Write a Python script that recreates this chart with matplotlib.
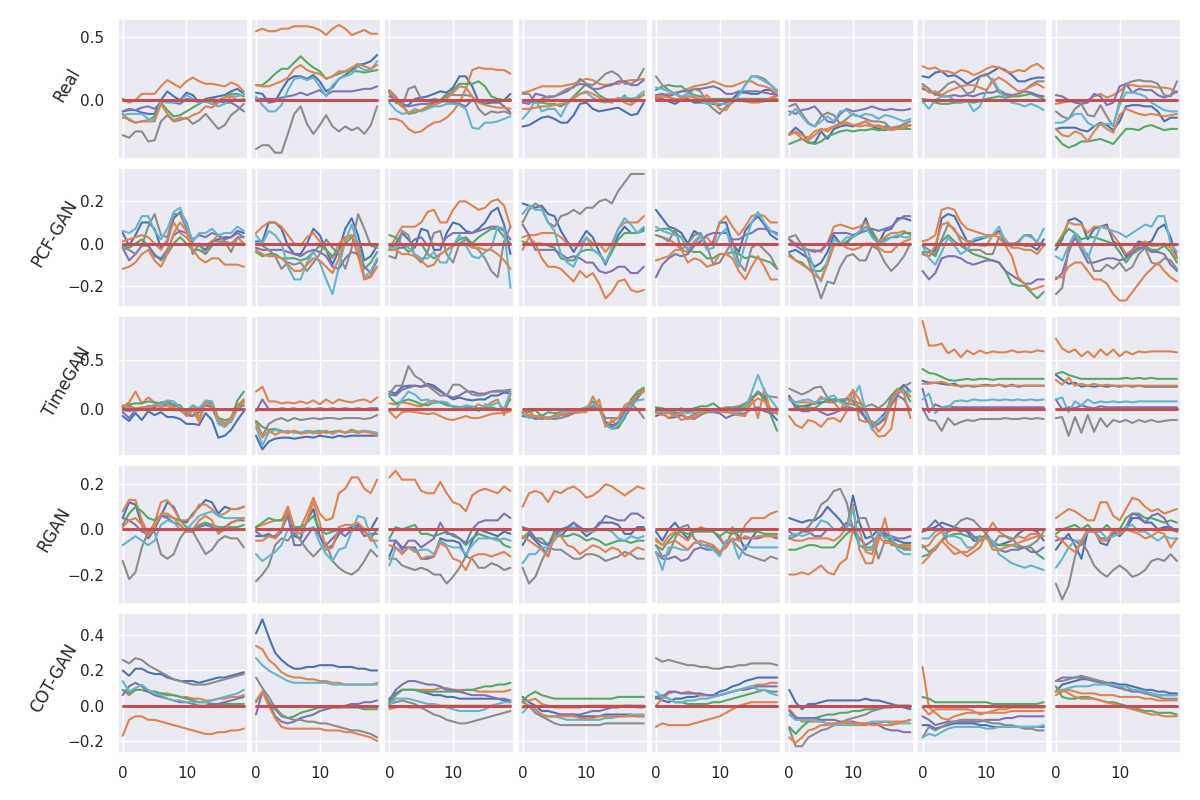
import numpy as np
import matplotlib
matplotlib.use("Agg")
import matplotlib.pyplot as plt
from matplotlib.ticker import MultipleLocator
import seaborn as sns

# -------------------------------
# Data (values in hundredths, one dict per panel, 20 steps each)
# -------------------------------
models = ["Real", "PCF-GAN", "TimeGAN", "RGAN", "COT-GAN"]
steps = list(range(20))
flat = [0] * 20  # channels that stay at zero

real = [
    dict(b=[-9,-8,-8,-10,-11,-11,0,7,3,0,6,4,-2,1,2,3,4,7,9,5],
         o=[1,-2,0,5,5,5,11,16,13,10,15,18,15,13,13,12,11,14,12,7],
         g=[-11,-16,-18,-17,-16,-13,-2,-8,-13,-12,-9,-6,-3,0,1,0,2,5,5,3],
         p=[-9,-7,-8,-6,-5,-7,-2,0,-2,-3,1,0,-2,-1,-3,-1,-2,-2,-5,-9],
         k=[-28,-30,-25,-25,-33,-32,-17,-12,-17,-16,-14,-19,-16,-11,-17,-23,-20,-12,-8,-3],
         c=[-12,-11,-11,-11,-15,-16,-1,-2,-2,-1,4,1,-2,-1,-3,-5,-3,3,3,5],
         o2=[-14,-15,-18,-17,-17,-17,-3,-11,-16,-14,-15,-12,-10,-5,-6,-2,2,3,0,1]),
    dict(b=[6,5,-2,-1,8,16,19,19,17,20,15,7,10,17,20,24,28,29,31,36],
         o=[55,57,55,55,57,57,59,59,59,58,56,52,57,60,57,52,54,56,53,53],
         g=[12,12,16,21,25,25,30,35,30,26,23,17,19,21,23,23,23,22,23,24],
         p=[1,1,1,1,2,3,4,6,4,6,8,4,7,7,7,7,8,9,9,11],
         k=[-39,-36,-36,-42,-42,-27,-11,-5,-19,-27,-20,-12,-21,-25,-21,-24,-22,-27,-20,-5],
         c=[3,-4,-9,-9,-4,8,17,18,16,18,11,3,12,17,19,21,27,24,24,31],
         o2=[12,11,11,13,15,18,25,28,24,22,21,17,19,23,23,26,29,27,25,28]),
    dict(b=[7,-1,-5,-4,1,2,3,5,7,6,10,19,19,11,-1,-3,-2,-2,0,5],
         o=[-15,-15,-17,-23,-26,-25,-21,-18,-17,-14,-9,-2,9,24,26,25,25,24,24,21],
         g=[6,-2,-3,-11,-10,-8,-6,-2,0,3,8,13,13,13,15,11,3,1,0,1],
         p=[3,1,-3,-5,-4,-3,-3,-2,-1,-1,-2,-3,-5,0,0,-1,-1,-1,-5,-10],
         k=[8,3,-5,9,11,1,-1,1,0,5,4,4,4,3,-7,-12,-9,-10,-9,-11],
         c=[-2,-8,-11,-10,-7,-9,-7,-5,-5,-3,-3,-4,-7,-22,-23,-18,-18,-17,-15,-13],
         o2=[8,0,-5,-10,-9,-8,-5,-4,-2,1,6,11,10,3,-2,-4,-5,-6,-6,-7]),
    dict(b=[-21,-20,-17,-14,-13,-15,-18,-18,-12,-3,-2,-7,-9,-8,-7,-6,-9,-12,-11,-2],
         o=[6,7,9,11,11,11,11,12,13,15,17,16,13,12,13,13,15,16,16,17],
         g=[0,-1,-2,-2,-3,-3,-5,-2,3,8,13,9,4,1,0,1,2,1,2,4],
         p=[-2,-3,5,4,2,3,5,7,11,13,12,9,9,11,12,15,15,12,12,16],
         k=[5,5,-2,1,3,3,6,9,10,17,13,12,16,21,23,20,13,13,16,25],
         c=[-15,-9,0,-9,-7,-7,-13,-3,1,5,6,2,-1,-2,1,-1,4,-2,3,7],
         o2=[-7,-7,-6,-5,-5,-4,-3,-2,2,5,7,5,2,-1,-2,2,-2,-4,0,5]),
    dict(b=[2,1,-1,-3,0,1,-2,-2,-2,-3,-4,-2,1,6,6,5,5,8,8,4],
         o=[1,4,5,6,7,9,11,12,13,15,13,11,11,13,15,15,12,11,9,5],
         g=[8,11,12,11,11,7,4,3,1,1,1,1,1,1,1,1,1,1,1,1],
         p=[4,5,3,5,7,7,9,9,10,11,9,5,5,7,7,7,7,6,5,4],
         k=[19,12,8,5,2,5,9,7,-2,-7,-11,-5,-2,4,12,19,19,17,12,7],
         c=[10,9,7,5,3,5,3,-1,-3,-2,-3,-3,-2,4,12,19,18,15,12,8],
         o2=[3,3,2,1,1,3,2,1,4,-1,-7,-8,-1,0,-1,-2,-2,-1,2,3]),
    dict(b=[-27,-22,-26,-34,-34,-25,-31,-23,-21,-20,-21,-19,-17,-21,-23,-21,-23,-23,-22,-20],
         o=[-28,-25,-28,-30,-25,-23,-25,-21,-18,-18,-20,-19,-17,-20,-21,-23,-22,-21,-20,-20],
         g=[-35,-33,-31,-34,-35,-33,-29,-27,-25,-24,-25,-24,-24,-23,-24,-24,-23,-23,-23,-23],
         p=[-9,-11,-8,-7,-5,-11,-17,-18,-11,-7,-9,-8,-7,-5,-7,-8,-7,-8,-8,-7],
         k=[-5,-3,-11,-18,-21,-13,-10,-12,-19,-15,-11,-13,-15,-17,-17,-18,-23,-22,-19,-17],
         c=[-12,-7,-13,-19,-21,-17,-13,-17,-9,-8,-12,-13,-11,-12,-15,-12,-13,-15,-17,-15],
         o2=[-27,-26,-31,-32,-28,-24,-23,-21,-20,-18,-20,-21,-20,-21,-20,-22,-24,-23,-22,-20]),
    dict(b=[19,18,22,23,19,20,17,13,16,19,20,23,26,24,20,15,15,17,18,18],
         o=[27,25,26,23,23,21,24,23,20,22,25,27,26,23,22,24,23,27,29,25],
         g=[1,0,-2,-3,-3,-2,-2,-1,-2,-1,1,2,3,2,3,3,4,5,3,1],
         p=[9,7,5,3,3,4,3,4,3,5,6,6,8,5,4,5,7,6,4,3],
         k=[13,9,4,8,13,15,11,5,7,19,21,15,6,4,3,5,8,12,15,15],
         c=[-1,-7,0,3,3,0,-2,0,-9,-5,7,17,8,1,-2,-3,-5,-3,-5,-8],
         o2=[11,6,7,4,7,9,11,12,12,10,8,15,18,15,11,7,8,11,13,10]),
    dict(b=[-23,-22,-22,-22,-24,-25,-21,-18,-20,-24,-17,-5,-4,-4,-5,-5,-9,-17,-14,-14],
         o=[-3,-2,-1,-1,-3,0,3,5,2,4,7,12,12,11,11,11,10,10,9,6],
         g=[-29,-35,-38,-36,-33,-33,-32,-31,-33,-35,-29,-23,-23,-24,-21,-20,-22,-24,-23,-23],
         p=[4,3,0,-2,-3,-2,5,3,-4,-2,11,13,6,9,8,8,4,2,4,7],
         k=[-9,-13,-15,-7,-3,-12,-13,-4,-13,-21,-1,13,15,16,15,15,13,4,3,15],
         c=[-18,-18,-15,-11,-11,-18,-21,-19,-19,-20,-4,6,6,5,3,-2,-5,-8,-9,-9],
         o2=[-23,-28,-29,-25,-27,-33,-25,-19,-23,-26,-12,-7,-9,-11,-12,-11,-12,-13,-12,-11]),
]

pcf = [
    dict(b=[5,-1,4,10,10,7,-2,1,12,15,10,0,-1,-3,1,2,3,3,6,5],
         o=[1,2,3,4,3,0,-3,2,10,5,3,-1,-1,-1,1,4,1,0,3,0],
         g=[-1,-2,0,2,-1,-5,-8,-5,0,3,0,-3,-3,-5,-1,0,0,0,0,0],
         p=[-2,-8,-5,-1,-1,-6,-7,-3,4,6,5,2,4,3,5,4,2,3,5,3],
         k=[-2,-3,-5,-1,8,14,4,3,14,14,7,-5,0,-5,1,1,1,-4,3,3],
         c=[6,5,7,13,13,6,2,7,15,17,9,1,5,5,7,4,5,5,8,6],
         o2=[-12,-11,-9,-5,-3,-8,-11,-5,5,10,6,-3,-7,-9,-7,-7,-10,-10,-10,-11]),
    dict(b=[1,1,10,10,7,-1,-5,-5,0,7,4,-3,-10,-3,7,12,4,-8,-6,-1],
         o=[5,8,10,10,8,4,0,-1,3,5,1,-3,-7,0,3,4,-6,-17,-16,-11],
         g=[-4,-6,-5,-5,-7,-7,-7,-8,-7,-4,-1,-3,-6,-3,0,3,0,-12,-9,-4],
         p=[-2,-3,-3,-3,-3,-4,-5,-6,-4,-3,-4,-6,-11,-12,-7,-4,-5,-11,-14,-8],
         k=[0,-1,-3,-6,-12,-9,-10,-9,-13,-9,-5,2,-2,-5,-12,-2,14,7,-1,-2],
         c=[4,0,6,4,0,-11,-17,-17,-9,-4,-9,-17,-24,-11,1,9,0,-16,-13,-7],
         o2=[-3,-5,-6,-6,-7,-10,-13,-13,-10,-7,-8,-11,-14,-7,2,4,-2,-17,-15,-11]),
    dict(b=[-3,0,5,2,-2,7,6,-3,-3,5,10,9,6,5,7,10,15,17,9,-5],
         o=[-3,3,8,8,8,10,15,16,10,10,16,20,20,18,16,17,20,21,18,8],
         g=[4,3,-1,-4,-1,0,-5,-7,-5,-3,-1,2,3,0,3,5,7,7,3,0],
         p=[-1,-2,-2,-1,2,3,-1,0,-1,3,5,5,5,5,6,7,8,8,6,2],
         k=[-6,-7,6,4,-6,-9,-4,5,6,-5,-9,0,2,-1,-3,-7,-13,-16,1,8],
         c=[-2,-2,0,-2,-5,-7,-7,-4,-9,-9,-1,4,-1,-6,-7,-4,-2,8,7,-21],
         o2=[-3,-3,-5,-5,-6,-8,-11,-10,-5,-3,-1,0,0,-2,-2,-3,-3,-5,-8,-12]),
    dict(b=[19,18,17,18,14,13,6,1,-4,1,6,3,-4,-10,-3,4,8,5,5,7],
         o=[3,4,4,5,5,5,3,0,-1,-1,3,0,0,-4,0,7,10,10,10,13],
         g=[1,0,0,0,-1,-2,-7,-8,-8,-4,-3,-3,-5,-9,-4,2,5,5,5,6],
         p=[9,4,-3,-3,-3,-3,-5,-7,-6,-7,-9,-9,-13,-14,-13,-11,-11,-14,-14,-11],
         k=[10,16,19,17,10,8,13,14,16,14,17,17,20,21,19,25,29,33,33,33],
         c=[14,18,16,16,10,6,-5,-9,-11,-4,3,-3,-5,-9,-2,7,12,9,5,8],
         o2=[-3,3,0,-7,-11,-11,-12,-15,-18,-13,-16,-14,-19,-26,-23,-18,-17,-22,-23,-22]),
    dict(b=[16,12,8,7,5,0,6,4,-1,1,10,10,0,-4,6,10,13,9,4,2],
         o=[4,3,2,0,-3,-4,0,3,3,-1,10,13,8,4,8,13,14,13,10,10],
         g=[6,7,7,5,3,-3,-4,-4,-7,-7,-5,-5,-4,-5,-7,-6,-7,-8,-9,-12],
         p=[-16,-10,-7,-5,-6,-5,-1,1,4,5,5,5,2,2,4,5,7,7,6,5],
         k=[4,3,1,7,-3,0,4,5,-1,-10,-9,-4,1,-9,-13,-2,0,-3,-6,-12],
         c=[8,6,5,4,3,-3,1,4,-3,-2,4,7,-4,-11,0,10,15,10,6,4],
         o2=[-8,-7,-6,-3,-3,-9,-7,-8,-11,-10,-5,-5,-7,-13,-17,-11,-6,-11,-17,-17]),
    dict(b=[-4,-3,-5,-7,-11,-9,-4,4,0,0,4,5,12,4,0,6,7,12,12,11],
         o=[2,0,-1,-3,-3,-4,0,8,9,8,7,8,10,6,1,3,5,5,6,4],
         g=[-5,-8,-9,-12,-13,-13,-9,0,-1,1,3,5,8,6,-1,2,3,3,5,5],
         p=[2,-1,-3,-3,-4,-3,0,5,5,5,4,5,6,7,6,7,8,11,13,13],
         k=[3,4,-1,-8,-17,-26,-18,-19,-11,-6,-5,-8,-8,-1,-3,-9,-13,-10,-6,0],
         c=[0,0,0,-4,-13,-18,-8,2,0,3,3,6,8,3,0,1,3,4,3,3],
         o2=[-6,-8,-10,-12,-15,-17,-10,-1,0,-2,-3,-2,0,0,-2,-4,-4,-1,1,2]),
    dict(b=[-5,-6,-3,12,14,13,7,1,1,2,3,4,6,0,0,0,-1,-1,-3,2],
         o=[1,2,4,16,17,16,10,7,6,5,4,4,5,2,-2,-2,-3,-3,-5,-1],
         g=[-4,-4,-6,1,4,1,-1,-3,-5,-6,-7,-8,-9,-13,-19,-20,-20,-23,-26,-23],
         p=[-13,-17,-14,-7,-6,-6,-7,-9,-10,-9,-8,-8,-9,-13,-15,-17,-19,-19,-17,-17],
         k=[-1,-3,-5,2,9,7,1,-3,-3,-3,-5,-5,3,-1,-1,1,4,4,0,0],
         c=[-1,-7,-10,-4,3,-1,-5,-3,2,3,3,4,8,1,-1,0,4,3,1,7],
         o2=[-5,-6,-1,9,10,6,3,1,0,-1,-1,4,3,-1,-6,-16,-19,-22,-21,-20]),
    dict(b=[-3,2,11,12,10,2,7,8,9,1,-1,-6,-3,1,0,1,7,9,3,-7],
         o=[-1,4,10,9,9,5,8,8,8,4,0,-5,-3,-1,1,-1,-1,0,-2,-7],
         g=[-1,3,7,5,2,3,3,2,1,0,-4,-9,-5,-3,-1,-3,-3,-1,-4,-9],
         p=[-17,-14,-4,3,-3,-9,-9,-8,-7,-7,-8,-7,-4,-2,-2,-4,-4,-5,-10,-13],
         k=[-24,-21,-3,5,-3,-5,-13,-13,-10,-12,-9,-13,-11,-5,-2,-9,-10,-7,-8,-12],
         c=[-6,-8,-1,5,0,-7,1,8,7,6,5,3,5,7,9,8,13,13,0,-4],
         o2=[-16,-16,-11,-9,-9,-13,-17,-17,-19,-24,-27,-27,-23,-19,-15,-12,-9,-13,-16,-18]),
]

timegan = [
    dict(b=[-7,-12,-4,-11,-2,-6,-3,-8,-8,-10,-15,-15,-16,-4,-11,-29,-27,-21,-11,-2],
         o=[2,7,18,6,12,7,5,7,2,4,-4,4,-9,8,8,-11,-15,-8,4,10],
         g=[3,5,6,6,8,7,6,7,4,2,-3,0,1,6,7,-9,-11,-10,9,18],
         p=[-3,-9,-1,1,3,2,5,4,-1,-1,-6,-7,-3,4,2,-14,-18,-11,1,4],
         k=[1,4,0,1,3,4,7,8,5,4,-4,-6,-3,7,6,-10,-14,-13,1,9],
         c=[-1,-2,-2,0,2,4,5,9,8,2,-2,4,1,9,8,-15,-18,-12,1,7],
         o2=[4,2,1,2,1,4,2,4,-1,1,-7,-1,-13,7,3,-10,-16,-10,2,7]),
    dict(b=[-27,-41,-33,-30,-29,-29,-30,-29,-28,-29,-27,-28,-29,-27,-28,-27,-27,-27,-27,-27],
         o=[18,23,8,8,6,7,6,8,6,9,5,10,6,10,8,7,9,10,7,12],
         g=[-12,-18,-21,-20,-22,-24,-22,-24,-22,-23,-22,-24,-23,-22,-24,-21,-23,-22,-23,-25],
         p=[-2,10,0,-1,1,0,1,-1,1,0,1,0,1,0,1,0,1,0,1,1],
         k=[-12,-27,-15,-11,-9,-12,-9,-11,-10,-9,-10,-9,-9,-10,-9,-9,-9,-10,-9,-6],
         c=[-18,-37,-24,-21,-23,-22,-24,-24,-22,-25,-23,-22,-25,-22,-24,-23,-24,-22,-23,-24],
         o2=[-14,-29,-22,-26,-23,-24,-22,-25,-24,-23,-25,-22,-25,-22,-24,-22,-24,-23,-24,-27]),
    dict(b=[18,16,23,24,24,23,26,24,19,14,10,12,10,9,10,10,14,14,17,16],
         o=[6,5,7,6,4,3,7,9,7,5,3,2,3,1,5,2,7,10,-6,15],
         g=[13,6,8,10,8,5,4,7,7,4,3,2,1,2,1,1,2,0,1,10],
         p=[15,14,20,22,24,23,24,22,18,14,12,14,18,18,16,16,18,18,18,18],
         k=[16,24,24,44,34,30,24,19,14,14,25,25,20,15,14,15,18,19,19,20],
         c=[-1,-1,10,18,15,9,10,6,8,7,2,1,4,3,-2,5,4,7,0,18],
         o2=[-2,-9,-3,-2,-3,-4,-5,-4,-7,-10,-11,-9,-7,-9,-9,-7,-5,-4,-4,-2]),
    dict(b=[-7,-8,-9,-7,-9,-7,-5,-4,-3,-3,0,1,4,-13,-16,-16,-8,2,11,20],
         o=[-4,-2,-8,-6,-10,-9,-6,-7,-4,-3,-1,0,10,-18,-11,-19,-3,2,15,20],
         g=[-3,-3,-1,-7,-3,-4,-3,-4,-1,0,2,8,2,-16,-20,-19,-9,10,18,22],
         p=[-7,-6,-10,-9,-9,-8,-4,-5,-4,-1,1,3,3,-15,-18,-13,-3,7,14,18],
         k=[-4,-8,-8,-10,-9,-10,-9,-7,-4,-2,1,2,1,-9,-9,-9,1,5,0,-9],
         c=[-4,-9,-7,-8,-8,-8,-4,-2,-3,-1,2,6,1,-16,-20,-16,-6,5,9,10],
         o2=[-3,-6,-7,-8,-10,-6,-6,-4,-3,-3,-3,13,2,-16,-13,-9,4,8,13,18]),
    dict(b=[-7,-4,-9,-8,-6,-9,-5,-3,-3,-2,-1,-3,-2,-1,1,10,18,13,-4,-11],
         o=[-2,-3,-9,-5,-11,-9,-6,-3,-2,0,-1,-2,-3,-6,-7,14,-9,21,-3,-4],
         g=[2,1,-1,-2,1,-2,1,3,3,6,1,-1,1,2,3,10,18,10,-6,-22],
         p=[-2,-2,-3,-4,-3,-2,-3,-2,-3,-3,-4,-9,-6,-5,-4,0,2,-2,-4,-3],
         k=[-3,-3,-2,-4,-5,-9,-10,-6,-3,-2,0,2,2,3,6,10,16,14,13,12],
         c=[-3,-2,-4,-7,-3,-4,-3,-2,-1,-2,0,-2,-3,-3,0,17,35,19,10,1],
         o2=[-4,-6,-3,-7,-4,-10,-8,-4,-2,0,-2,-3,-4,-6,-6,6,11,8,1,-5]),
    dict(b=[13,2,3,4,6,7,8,10,8,11,8,2,-10,-16,-11,-4,9,19,25,18],
         o=[12,7,7,7,5,13,7,7,-1,11,19,10,-4,-20,-28,-27,-20,17,20,13],
         g=[10,4,3,2,1,6,10,10,9,6,5,2,-1,-16,-15,-10,14,21,19,8],
         p=[14,1,-2,-2,1,-3,-6,-4,-1,3,1,-2,-9,-18,-15,-9,4,14,10,-1],
         k=[21,18,15,18,22,23,12,7,10,10,9,6,3,5,1,6,14,15,23,27],
         c=[10,7,9,10,7,10,12,14,7,4,12,24,-2,-21,-10,-7,8,18,19,18],
         o2=[-7,-16,-19,-11,-13,-18,-10,-9,-13,-2,20,-11,-13,-12,-23,-15,7,20,16,-9]),
    dict(b=[29,27,27,26,25,26,23,24,23,24,25,24,25,23,25,23,24,24,24,24],
         o=[90,65,65,67,57,61,53,60,56,60,57,59,58,58,60,58,59,58,60,59],
         g=[41,37,36,33,30,29,30,31,30,31,31,30,31,31,31,31,31,31,31,31],
         p=[21,-3,5,2,3,2,2,2,2,2,2,2,2,2,2,2,2,2,2,2],
         k=[1,-11,-12,-22,-9,-16,-13,-11,-12,-10,-10,-10,-10,-9,-10,-10,-9,-10,-9,-10],
         c=[10,16,-4,2,2,8,9,8,10,9,9,10,9,10,9,10,9,10,9,10],
         o2=[26,26,27,28,26,24,24,24,24,24,24,24,25,24,24,24,24,24,24,24]),
    dict(b=[35,30,26,27,23,24,23,24,23,24,23,24,23,24,23,23,23,23,23,23],
         o=[72,62,58,61,54,59,53,61,55,61,54,59,56,59,58,59,59,59,59,58],
         g=[36,38,35,33,31,31,31,31,31,31,31,32,31,32,31,32,31,31,31,31],
         p=[10,0,2,1,4,2,1,3,2,2,2,2,2,2,2,2,2,2,2,2],
         k=[-9,-8,-27,-8,-24,-6,-23,-9,-18,-11,-13,-11,-14,-11,-13,-11,-13,-12,-11,-11],
         c=[10,12,-3,8,4,10,6,8,7,8,7,8,7,8,8,8,8,8,8,8],
         o2=[30,25,32,24,26,24,26,24,25,24,24,24,24,24,24,24,24,24,24,24]),
]

rgan = [
    dict(b=[5,12,11,2,-4,0,6,12,10,4,3,7,10,13,12,7,10,9,9,10],
         o=[8,13,13,4,-2,3,12,13,9,4,4,6,11,11,9,6,7,9,9,10],
         g=[2,7,10,8,5,4,6,6,5,4,1,0,2,3,2,1,1,1,1,2],
         p=[5,4,2,-1,-2,1,6,5,3,2,-1,-1,1,2,1,-1,1,3,4,4],
         k=[-14,-22,-19,-8,-1,-1,-11,-13,-11,-4,0,-1,-6,-11,-9,-5,-3,-4,-4,-8],
         c=[-7,-5,-3,-5,-7,-5,2,4,3,0,0,3,6,7,8,6,5,5,5,5],
         o2=[1,4,5,2,-3,1,7,7,5,2,-1,0,4,6,4,-2,0,3,4,5]),
    dict(b=[-3,-3,-2,-4,-1,10,-3,-4,4,9,-3,-9,-7,-2,0,1,2,0,0,5],
         o=[1,2,3,4,4,10,1,1,7,14,7,4,5,16,18,23,23,18,16,22],
         g=[1,3,5,4,4,7,1,1,3,6,0,-2,-1,0,0,0,0,-1,-4,0],
         p=[-1,-3,-3,-3,0,6,-7,-7,-3,1,-3,-7,-4,-1,-3,0,1,-3,-2,-2],
         k=[-23,-20,-16,-7,-4,-5,-1,-5,-9,-12,-9,-6,-14,-17,-19,-20,-18,-14,-9,-12],
         c=[-11,-14,-12,-10,-7,0,-1,-2,0,1,-6,-11,-14,-9,-8,-1,6,5,-3,-8],
         o2=[-5,-5,-3,-4,0,9,0,-2,4,12,3,-9,-8,1,2,2,3,0,-5,-5]),
    dict(b=[-12,-5,-8,-8,-8,-13,-13,-12,-4,-5,-5,-6,-12,-5,0,-1,-2,-3,-1,-2],
         o=[23,26,22,22,22,17,16,16,21,16,12,11,8,15,17,18,17,16,19,17],
         g=[-4,1,0,1,2,-2,-2,-3,-2,-1,-3,-4,-7,-4,-2,-3,-4,-4,-7,-8],
         p=[-5,-5,-9,-5,-5,-8,-6,-4,3,-2,-2,-4,-6,0,3,4,4,4,7,5],
         k=[-13,-13,-16,-17,-18,-17,-18,-20,-20,-24,-21,-17,-12,-13,-17,-17,-15,-16,-18,-17],
         c=[-16,-8,-10,-8,-10,-9,-9,-11,-5,-7,-8,-8,-11,-7,-4,-4,-4,-5,-4,-5],
         o2=[-7,-8,-11,-8,-9,-13,-12,-12,-6,-8,-13,-14,-18,-12,-11,-11,-12,-11,-10,-12]),
    dict(b=[-7,-2,-5,-8,-12,0,-3,0,3,0,-3,-1,3,3,3,2,-2,-2,1,1],
         o=[10,16,17,16,12,17,16,18,19,17,14,15,17,20,19,17,15,17,19,18],
         g=[-4,-1,-4,-4,-7,-1,-3,-3,-2,-3,-5,-4,-5,-7,-6,-5,-5,-6,-5,-5],
         p=[1,0,-4,-6,-7,-3,0,1,3,1,-1,0,2,6,5,4,4,7,7,5],
         k=[-17,-24,-21,-14,-8,-9,-9,-11,-13,-13,-11,-11,-12,-14,-13,-12,-10,-11,-13,-13],
         c=[-15,-11,-11,-8,-8,-5,-1,0,1,0,-1,-1,0,0,-1,-4,-5,-3,-4,-3],
         o2=[-3,-5,-7,-9,-12,-3,-3,-7,-8,-11,-9,-7,-8,-10,-8,-9,-12,-10,-8,-9]),
    dict(b=[-1,-5,0,3,-1,-4,0,0,0,-1,-4,-8,0,-3,-9,-4,0,0,0,0],
         o=[-4,-7,-3,-1,-3,-5,-1,1,0,-1,-3,-8,1,-5,2,5,5,5,7,8],
         g=[-7,-9,-5,-2,-1,-2,-1,-1,-1,-1,-3,-1,-2,-1,-1,-1,-1,-2,-2,-2],
         p=[-10,-13,-13,-12,-14,-13,-9,-8,-9,-9,-11,-5,-5,-4,-4,-4,-4,-3,-3,-4],
         k=[-7,-12,-11,-4,1,2,-4,-7,-7,-8,-11,-6,-5,-8,-11,-12,-13,-14,-12,-13],
         c=[-10,-18,-8,-8,-9,-9,-6,-6,-8,-9,-12,-5,-5,-13,-7,-8,-8,-8,-8,-8],
         o2=[-5,-7,-6,-5,-7,-9,-6,-5,-6,-7,-10,-8,-4,-5,-3,-4,-3,-3,-3,-3]),
    dict(b=[5,4,3,4,4,6,10,7,4,0,15,3,-4,-3,0,-3,-4,-5,-6,-6],
         o=[-4,-5,-5,-4,-4,-4,-4,-5,-3,1,11,-9,-15,-15,-5,5,-7,-7,-7,-7],
         g=[-9,-9,-8,-7,-7,-8,-8,-8,-5,-2,0,-7,-8,-8,-2,-1,-6,-8,-8,-9],
         p=[-1,-3,-1,-1,-3,-3,0,0,0,3,1,-4,-7,-5,-3,-2,-3,-4,-4,-3],
         k=[-4,-3,-1,1,5,11,13,17,18,12,0,5,5,-3,-13,-5,-5,-7,-9,-9],
         c=[-3,-2,-3,-2,0,4,3,0,0,0,9,-7,-9,-9,-1,-4,-3,-9,-11,-11],
         o2=[-20,-20,-19,-20,-18,-16,-19,-20,-15,-13,0,0,-10,-11,-3,-6,-6,-7,-7,-8]),
    dict(b=[-1,0,1,3,2,1,0,-1,-5,-5,-2,-6,-7,-6,-5,-2,0,0,-1,-5],
         o=[-8,-7,-3,-1,-6,-8,-10,-12,-10,-8,-2,3,-1,-3,-5,-3,-4,-2,-2,-3],
         g=[-12,-11,-9,-5,-3,-2,-2,-3,-4,-3,-4,-6,-7,-7,-7,-8,-8,-8,-11,-13],
         p=[-1,1,4,1,-1,0,-1,0,-3,-5,-3,-7,-9,-10,-9,-9,-8,-10,-10,-8],
         k=[-7,-10,-8,-5,-1,1,4,5,4,1,-2,-7,-3,-3,-4,-7,-8,-7,-5,-1],
         c=[-4,-4,-1,0,-3,-3,-4,-8,-8,-4,-4,-5,-11,-13,-15,-16,-17,-16,-17,-18],
         o2=[-15,-12,-8,-5,-8,-11,-10,-10,-8,-5,-3,-9,-9,-8,-7,-6,-5,-4,-3,-3]),
    dict(b=[-9,-5,-2,-7,-13,-1,0,-6,-7,-1,-3,0,5,5,3,3,0,1,1,-1],
         o=[5,7,9,8,6,4,4,12,12,6,4,9,14,13,10,8,9,7,8,9],
         g=[-2,0,1,2,0,2,-1,-1,2,-1,0,5,7,7,5,5,4,3,4,3],
         p=[-5,-4,-4,-5,-7,-1,-1,-4,-4,-3,-1,1,7,6,3,6,7,5,0,-1],
         k=[-24,-31,-25,-12,-5,-10,-16,-19,-21,-18,-16,-18,-21,-20,-18,-14,-13,-14,-11,-14],
         c=[-17,-13,-8,-5,-5,-1,-1,-1,-4,-3,-2,1,2,-1,-1,-3,-5,-3,-4,-4],
         o2=[-3,-5,-8,-10,-5,0,-1,-5,-5,0,-2,0,-1,-2,-4,-3,-1,-2,-8,-4]),
]

cotgan = [
    dict(b=[20,17,21,21,19,18,18,16,15,14,14,14,13,14,15,16,16,17,18,19],
         o=[9,6,9,9,8,8,7,7,6,5,5,4,4,3,3,4,4,5,5,6],
         g=[9,7,9,9,8,8,7,6,6,5,4,3,2,2,1,1,1,1,1,1],
         p=[6,11,13,11,8,6,5,4,3,2,2,1,0,0,1,1,2,3,4,5],
         k=[26,24,27,26,23,21,19,17,15,14,13,12,12,12,13,14,15,16,17,18],
         c=[14,8,10,12,9,7,6,4,3,3,2,2,2,2,3,4,5,6,7,9],
         o2=[-17,-8,-6,-6,-8,-8,-9,-10,-11,-12,-13,-14,-15,-16,-16,-15,-15,-14,-14,-13]),
    dict(b=[41,49,39,30,26,23,21,21,22,22,23,23,23,22,22,22,21,21,20,20],
         o=[34,32,26,23,19,17,16,16,15,15,14,14,13,13,12,12,12,12,12,12],
         g=[2,8,2,-2,-6,-7,-6,-4,-3,-2,-1,-1,0,-1,-1,-1,-1,-2,-2,-2],
         p=[-5,8,2,-6,-9,-10,-9,-7,-6,-5,-3,-2,-1,-1,0,1,1,2,2,3],
         k=[16,10,5,-1,-5,-7,-8,-8,-9,-9,-10,-10,-11,-12,-13,-14,-14,-15,-16,-18],
         c=[27,23,20,18,16,14,13,13,13,13,13,13,12,12,12,12,12,12,12,13],
         o2=[3,8,0,-7,-12,-13,-13,-13,-13,-13,-13,-14,-14,-14,-15,-15,-16,-17,-18,-20]),
    dict(b=[4,7,9,9,9,8,7,6,6,5,5,4,4,4,4,4,4,4,3,2],
         o=[1,6,9,9,9,9,9,9,10,10,9,9,9,9,8,8,8,8,8,9],
         g=[2,6,9,9,9,8,8,8,8,8,8,8,9,9,10,11,11,12,12,13],
         p=[3,9,12,14,14,13,12,12,11,9,9,8,7,6,6,6,5,4,4,3],
         k=[1,2,3,2,1,-1,-3,-5,-6,-8,-9,-10,-10,-9,-8,-7,-6,-5,-4,-3],
         c=[0,4,4,4,3,2,1,1,0,-1,-2,-3,-3,-3,-3,-2,0,1,2,2],
         o2=[-2,-1,0,-1,-1,-1,0,0,0,0,0,0,0,0,0,0,0,0,0,0]),
    dict(b=[5,2,0,-3,-3,-4,-5,-5,-5,-6,-6,-6,-6,-5,-5,-5,-5,-5,-6,-6],
         o=[2,3,4,1,0,-1,-1,-1,-1,-1,0,0,0,0,0,0,0,0,-1,-1],
         g=[3,6,8,6,5,4,4,4,4,4,4,4,4,4,4,5,5,5,5,5],
         p=[-1,0,-4,-6,-6,-6,-5,-5,-5,-5,-4,-3,-3,-2,-1,-1,0,0,0,0],
         k=[2,0,-4,-6,-8,-10,-11,-11,-11,-11,-11,-11,-11,-10,-10,-10,-10,-10,-10,-10],
         c=[-4,0,-3,-5,-6,-6,-7,-8,-8,-8,-8,-8,-8,-7,-7,-6,-6,-5,-5,-5],
         o2=[-1,0,-2,-5,-6,-6,-6,-6,-6,-7,-7,-7,-6,-6,-6,-6,-6,-6,-6,-6]),
    dict(b=[5,3,2,4,4,5,5,6,6,6,8,9,11,12,14,15,16,16,16,16],
         o=[0,4,7,8,7,8,7,6,6,6,6,7,8,9,10,11,12,12,13,13],
         g=[5,6,4,2,2,1,1,1,1,2,2,3,4,5,6,7,8,9,8,8],
         p=[4,5,8,8,7,7,7,7,6,6,6,7,8,9,9,10,11,11,11,11],
         k=[27,25,26,25,24,23,23,22,22,21,21,22,22,23,23,24,24,24,24,23],
         c=[8,5,4,2,2,3,3,4,4,5,6,7,8,9,10,11,9,9,7,6],
         o2=[-12,-10,-11,-11,-11,-11,-10,-9,-8,-7,-6,-4,-2,0,1,2,2,2,2,2]),
    dict(b=[9,2,-2,1,1,2,3,3,3,3,3,3,4,3,3,2,1,0,-1,-2],
         o=[-2,-6,-9,-9,-9,-9,-10,-10,-10,-10,-11,-11,-11,-10,-10,-9,-9,-9,-9,-8],
         g=[-12,-16,-12,-9,-7,-6,-5,-5,-4,-4,-3,-3,-2,-2,-1,-1,0,0,0,0],
         p=[-3,-7,-7,-7,-7,-8,-8,-8,-9,-9,-9,-10,-10,-10,-11,-13,-14,-14,-15,-15],
         k=[-13,-23,-23,-18,-16,-14,-13,-11,-10,-8,-7,-6,-5,-3,-2,-1,-1,0,0,0],
         c=[-5,-8,-8,-8,-8,-9,-10,-11,-11,-11,-11,-10,-10,-9,-9,-9,-10,-10,-10,-10],
         o2=[-18,-21,-18,-14,-13,-11,-11,-10,-10,-9,-10,-10,-10,-11,-11,-11,-11,-10,-9,-8]),
    dict(b=[-11,-11,-13,-12,-11,-10,-10,-10,-10,-11,-11,-12,-12,-12,-12,-12,-12,-12,-12,-12],
         o=[22,-1,-4,-7,-8,-6,-5,-4,-4,-4,-4,-3,-2,-2,-1,-1,-1,-1,-1,-1],
         g=[5,4,2,2,2,2,2,2,2,2,2,1,1,1,1,1,1,1,1,2],
         p=[-6,-8,-11,-10,-9,-9,-9,-9,-9,-9,-8,-8,-8,-7,-7,-6,-6,-6,-6,-6],
         k=[-18,-12,-14,-12,-10,-9,-8,-8,-8,-8,-9,-10,-10,-11,-11,-12,-13,-13,-14,-14],
         c=[-18,-16,-17,-15,-13,-12,-12,-12,-12,-12,-13,-13,-12,-12,-12,-12,-12,-12,-12,-11],
         o2=[-1,-5,-2,-2,-2,-2,-2,-2,-3,-5,-4,-4,-4,-4,-3,-3,-3,-3,-3,-3]),
    dict(b=[8,12,13,14,15,15,14,14,13,13,12,12,11,10,9,9,8,8,7,7],
         o=[6,8,9,8,7,7,7,6,6,6,5,5,5,5,4,4,3,3,3,3],
         g=[11,5,4,4,5,5,4,3,2,2,1,0,-1,-2,-3,-3,-4,-4,-4,-5],
         p=[14,16,16,16,16,15,14,13,12,11,10,9,8,8,7,7,6,6,6,6],
         k=[14,14,15,16,17,16,15,14,13,12,11,9,9,8,7,6,5,4,4,4],
         c=[8,9,10,11,11,11,12,12,12,12,11,11,9,9,8,7,6,6,6,6],
         o2=[8,9,7,5,4,4,4,3,2,1,0,-1,-2,-3,-4,-5,-5,-6,-6,-6]),
]

rows = [real, pcf, timegan, rgan, cotgan]
row_ylim = [(-0.47, 0.646), (-0.303, 0.36), (-0.476, 0.95), (-0.332, 0.287), (-0.267, 0.526)]
row_step = [0.5, 0.2, 0.5, 0.2, 0.2]

# -------------------------------
# Plot
# -------------------------------
sns.set_theme(style="darkgrid")
pal = sns.color_palette("deep")
colors = {"b": pal[0], "o": pal[1], "g": pal[2], "p": pal[4],
          "k": pal[7], "c": pal[9], "o2": pal[1]}

fig, axes = plt.subplots(5, 8, figsize=(12, 8), dpi=100, sharex=True, sharey="row")
fig.subplots_adjust(left=0.098, right=0.984, top=0.976, bottom=0.059,
                    wspace=0.025, hspace=0.062)

for r, panels in enumerate(rows):
    for c, panel in enumerate(panels):
        ax = axes[r, c]
        for key in ["b", "o", "g", "p", "k", "c", "o2"]:
            ax.plot(steps, np.array(panel[key]) / 100, color=colors[key], lw=1.5)
        ax.plot(steps, flat, color=pal[3], lw=2.2)
        ax.set_ylim(*row_ylim[r])
        ax.yaxis.set_major_locator(MultipleLocator(row_step[r]))
    axes[r, 0].set_ylabel(models[r], rotation=60)

axes[0, 0].set_xlim(-0.8, 19.6)
axes[0, 0].xaxis.set_major_locator(MultipleLocator(10))

plt.savefig("out.png", dpi=100)
